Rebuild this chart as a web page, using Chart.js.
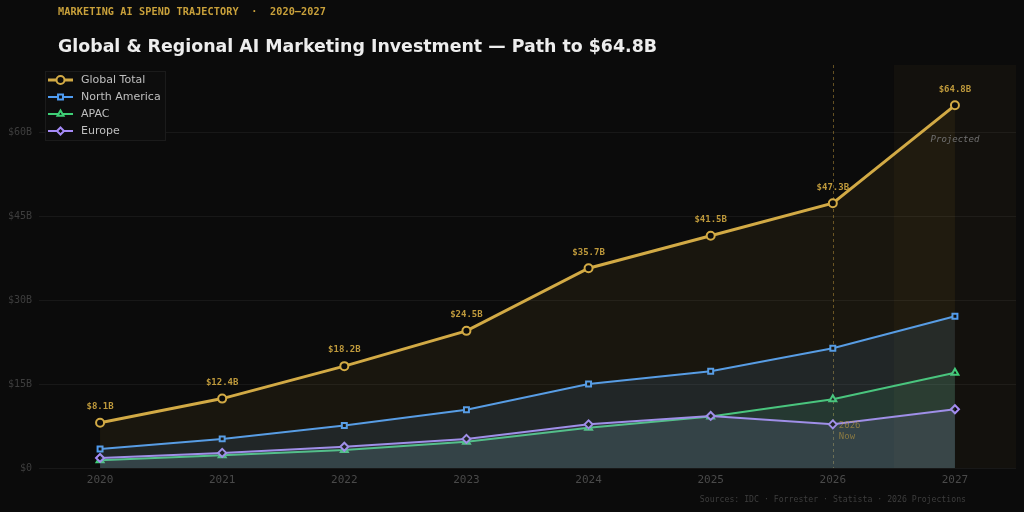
<!DOCTYPE html>
<html><head><meta charset="utf-8">
<script src="https://cdn.jsdelivr.net/npm/chart.js@4.4.1/dist/chart.umd.min.js"></script>
<style>
html,body{margin:0;padding:0;background:#0b0b0b;width:1024px;height:512px;overflow:hidden}
#wrap{position:relative;width:1024px;height:512px}
canvas{position:absolute;left:0;top:0}
.sub{position:absolute;left:58px;top:5px;font:bold 10.2px "DejaVu Sans Mono",monospace;color:#c9a13b;letter-spacing:0.1px;white-space:pre;line-height:14px}
.title{position:absolute;left:58px;top:35px;font:bold 17.4px "DejaVu Sans",sans-serif;color:#ededed;line-height:22px;white-space:nowrap}
.src{position:absolute;right:58px;top:493px;font:8.2px "DejaVu Sans Mono",monospace;color:#3e3e3e;white-space:pre;line-height:12px}
</style></head>
<body><div id="wrap">
<canvas id="c" width="1024" height="512"></canvas>
<div class="sub">MARKETING AI SPEND TRAJECTORY  ·  2020–2027</div>
<div class="title">Global &amp; Regional AI Marketing Investment — Path to $64.8B</div>
<div class="src">Sources: IDC · Forrester · Statista · 2026 Projections</div>
</div>
<script>
const years = ['2020','2021','2022','2023','2024','2025','2026','2027'];
const globalTotal = [8.1, 12.4, 18.2, 24.5, 35.7, 41.5, 47.3, 64.8];
const northAmerica = [3.4, 5.2, 7.6, 10.4, 15.0, 17.3, 21.4, 27.1];
const apac = [1.4, 2.3, 3.2, 4.7, 7.2, 9.2, 12.3, 17.0];
const europe = [1.8, 2.7, 3.8, 5.2, 7.8, 9.3, 7.8, 10.5];
const yTicks = [0, 15, 30, 45, 60];
const seriesNames = ['Global Total', 'North America', 'APAC', 'Europe'];
const nowYear = '2026';
const projectedYear = '2027';

const BG = '#0b0b0b';
const GOLD = '#d2aa45', BLUE = '#4f9cf2', GREEN = '#3ecf76', PURPLE = '#a68bf7';

function ds(label, data, color, fillCol, style, radius, width, order) {
  return {label, data, borderColor: color, backgroundColor: fillCol, fill: 'origin',
    borderWidth: width, pointStyle: style, pointRadius: radius, pointBorderWidth: 2,
    pointBackgroundColor: BG, pointBorderColor: color, tension: 0, order};
}

const overlay = {
  id: 'overlay',
  beforeDatasetsDraw(chart) {
    const {ctx, chartArea: a, scales: {x}} = chart;
    const ip = years.indexOf(projectedYear), inow = years.indexOf(nowYear);
    const half = (x.getPixelForValue(1) - x.getPixelForValue(0)) / 2;
    ctx.save();
    ctx.fillStyle = 'rgba(207,165,63,0.045)';
    const px = x.getPixelForValue(ip) - half;
    ctx.fillRect(px, a.top, a.right - px, a.bottom - a.top);
    const nx = Math.round(x.getPixelForValue(inow)) + 0.5;
    ctx.strokeStyle = 'rgba(207,165,63,0.45)';
    ctx.lineWidth = 1;
    ctx.setLineDash([3, 3]);
    ctx.beginPath(); ctx.moveTo(nx, a.top); ctx.lineTo(nx, a.bottom); ctx.stroke();
    ctx.restore();
  },
  afterDatasetsDraw(chart) {
    const {ctx, chartArea: a, scales: {x, y}} = chart;
    ctx.save();
    const meta = chart.getDatasetMeta(0);
    ctx.font = 'bold 9px "DejaVu Sans Mono"';
    ctx.fillStyle = '#bf9a3c';
    ctx.textAlign = 'center'; ctx.textBaseline = 'middle';
    meta.data.forEach((p, i) => {
      ctx.fillText('$' + globalTotal[i].toFixed(1) + 'B', p.x, p.y - 16);
    });
    ctx.font = 'italic 9px "DejaVu Sans Mono"';
    ctx.fillStyle = '#707070';
    ctx.fillText('Projected', x.getPixelForValue(years.indexOf(projectedYear)), 140);
    ctx.font = '9px "DejaVu Sans Mono"';
    ctx.fillStyle = 'rgba(207,165,63,0.55)';
    ctx.textAlign = 'left';
    const nx = x.getPixelForValue(years.indexOf(nowYear));
    ctx.fillText(nowYear, nx + 6, 426);
    ctx.fillText('Now', nx + 6, 437);
    // legend
    const bx = 45, by = 71, bw = 121, bh = 70;
    ctx.fillStyle = '#0d0d0d';
    ctx.fillRect(bx, by, bw, bh);
    ctx.strokeStyle = '#1b1b1b'; ctx.lineWidth = 1;
    ctx.strokeRect(bx + 0.5, by + 0.5, bw - 1, bh - 1);
    chart.data.datasets.forEach((d, i) => {
      const cy = 80 + i * 17;
      ctx.strokeStyle = d.borderColor;
      ctx.lineWidth = i === 0 ? 3 : 2;
      ctx.beginPath(); ctx.moveTo(48, cy); ctx.lineTo(73, cy); ctx.stroke();
      ctx.fillStyle = BG; ctx.strokeStyle = d.borderColor; ctx.lineWidth = 2;
      Chart.helpers.drawPoint(ctx, {pointStyle: d.pointStyle, radius: i === 0 ? 4 : 3.5, borderWidth: 2, rotation: 0}, 60.5, cy);
      ctx.fillStyle = '#bfbfbf';
      ctx.font = '11px "DejaVu Sans"';
      ctx.textAlign = 'left'; ctx.textBaseline = 'middle';
      ctx.fillText(seriesNames[i], 81, cy);
    });
    ctx.restore();
  }
};

new Chart(document.getElementById('c'), {
  type: 'line',
  data: {
    labels: years,
    datasets: [
      ds(seriesNames[0], globalTotal, GOLD, 'rgba(207,165,63,0.07)', 'circle', 4, 3, 0),
      ds(seriesNames[1], northAmerica, BLUE, 'rgba(79,156,242,0.12)', 'rect', 3.5, 2, 1),
      ds(seriesNames[2], apac, GREEN, 'rgba(62,207,118,0.12)', 'triangle', 4, 2, 3),
      ds(seriesNames[3], europe, PURPLE, 'rgba(166,139,247,0.12)', 'rectRot', 4, 2, 2)
    ]
  },
  options: {
    responsive: false, animation: false, devicePixelRatio: 1,
    layout: {padding: {top: 65, right: 8, left: 0, bottom: 0}},
    plugins: {legend: {display: false}, tooltip: {enabled: false}, title: {display: false}},
    scales: {
      x: {offset: true, grid: {display: false, drawTicks: false}, border: {display: false},
        ticks: {color: '#4a4a4a', font: {family: 'DejaVu Sans Mono', size: 11}, padding: 6},
        afterFit(s) { s.height = 44; }},
      y: {min: 0, max: 72,
        afterBuildTicks(s) { s.ticks = yTicks.map(v => ({value: v})); },
        grid: {color: 'rgba(255,255,255,0.055)', drawTicks: false}, border: {display: false},
        ticks: {color: '#3e3e3e', font: {family: 'DejaVu Sans Mono', size: 10}, padding: 7,
          callback: v => v === 0 ? '$0' : '$' + v + 'B'},
        afterFit(s) { s.width = 39; }}
    }
  },
  plugins: [overlay]
});
</script>
</body></html>
